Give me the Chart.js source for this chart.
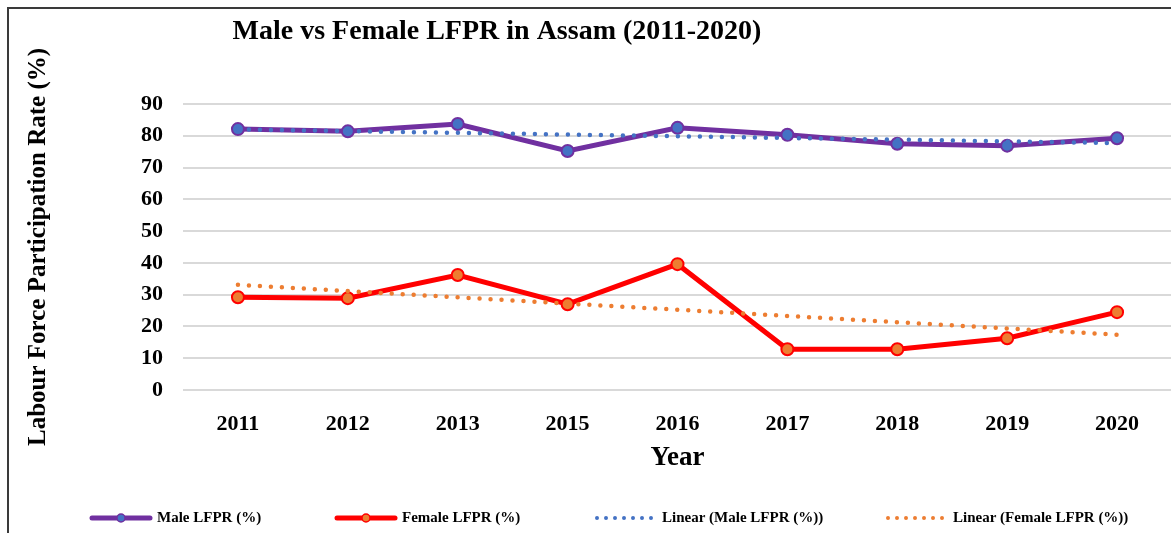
<!DOCTYPE html>
<html>
<head>
<meta charset="utf-8">
<script src="https://cdn.jsdelivr.net/npm/chart.js@4.4.1/dist/chart.umd.min.js"></script>
<style>
html, body { margin: 0; padding: 0; background: #fff; overflow: hidden; }
#wrap { position: relative; width: 1171px; height: 533px; overflow: hidden; }
#frame { position: absolute; left: 7px; top: 7px; width: 1300px; height: 700px; border-left: 2px solid #3a3a3a; border-top: 2px solid #3a3a3a; }
#chart { position: absolute; left: 0; top: 0; }
</style>
</head>
<body>
<div id="wrap">
  <div id="frame"></div>
  <canvas id="chart" width="1180" height="533"></canvas>
</div>
<script>
// Daten
const years = ['2011', '2012', '2013', '2015', '2016', '2017', '2018', '2019', '2020'];
const maleLFPR = [82.1, 81.4, 83.7, 75.2, 82.5, 80.3, 77.5, 76.9, 79.2];
const femaleLFPR = [29.2, 28.9, 36.2, 27.0, 39.6, 12.8, 12.8, 16.3, 24.5];
const maleTrend = [82.0, null, null, null, null, null, null, null, 77.7];
const femaleTrend = [33.1, null, null, null, null, null, null, null, 17.4];
const yMin = 0, yMax = 90, yStep = 10;

const serif = "'Times New Roman', 'Liberation Serif', serif";

// Titel und Legende selbst zeichnen (Positionen wie im Original)
const titleAndLegend = {
  id: 'titleAndLegend',
  afterDraw(chart, args, opts) {
    const ctx = chart.ctx;
    ctx.save();
    ctx.fillStyle = '#000';
    ctx.font = 'bold 28px ' + serif;
    ctx.textAlign = 'center';
    ctx.textBaseline = 'middle';
    ctx.fillText(opts.title, 497, 32);

    ctx.font = 'bold 15px ' + serif;
    ctx.textAlign = 'left';
    chart.data.datasets.forEach((ds, i) => {
      const x = opts.legendX[i], y = 518;
      ctx.beginPath();
      ctx.strokeStyle = ds.borderColor;
      ctx.lineWidth = ds.borderDash ? 4 : 5;
      ctx.lineCap = 'round';
      ctx.setLineDash(ds.borderDash ? [0, 9] : []);
      ctx.moveTo(x, y);
      ctx.lineTo(x + 58, y);
      ctx.stroke();
      ctx.setLineDash([]);
      if (ds.pointRadius > 0) {
        ctx.beginPath();
        ctx.arc(x + 29, y, 4, 0, Math.PI * 2);
        ctx.fillStyle = ds.pointBackgroundColor;
        ctx.fill();
        ctx.lineWidth = 1.5;
        ctx.strokeStyle = ds.pointBorderColor;
        ctx.stroke();
      }
      ctx.fillStyle = '#000';
      ctx.fillText(ds.label, x + 65, y);
    });
    ctx.restore();
  }
};

new Chart(document.getElementById('chart'), {
  type: 'line',
  data: {
    labels: years,
    datasets: [
      {
        label: 'Male LFPR (%)',
        data: maleLFPR,
        borderColor: '#7030A0',
        borderWidth: 5,
        pointRadius: 6,
        pointBackgroundColor: '#4472C4',
        pointBorderColor: '#7030A0',
        pointBorderWidth: 2,
        tension: 0,
        order: 1
      },
      {
        label: 'Female LFPR (%)',
        data: femaleLFPR,
        borderColor: '#FF0000',
        borderWidth: 5,
        pointRadius: 6,
        pointBackgroundColor: '#ED7D31',
        pointBorderColor: '#FF0000',
        pointBorderWidth: 2,
        tension: 0,
        order: 1
      },
      {
        label: 'Linear (Male LFPR (%))',
        data: maleTrend,
        borderColor: '#4472C4',
        borderWidth: 4.5,
        borderDash: [0, 11],
        borderCapStyle: 'round',
        pointRadius: 0,
        spanGaps: true,
        order: 0
      },
      {
        label: 'Linear (Female LFPR (%))',
        data: femaleTrend,
        borderColor: '#ED7D31',
        borderWidth: 4.5,
        borderDash: [0, 11],
        borderCapStyle: 'round',
        pointRadius: 0,
        spanGaps: true,
        order: 0
      }
    ]
  },
  options: {
    responsive: false,
    animation: false,
    layout: { padding: { left: 10, top: 104, right: 5, bottom: 0 } },
    plugins: {
      legend: { display: false },
      tooltip: { enabled: false },
      titleAndLegend: {
        title: 'Male vs Female LFPR in Assam (2011-2020)',
        legendX: [92, 337, 597, 888]
      }
    },
    scales: {
      x: {
        offset: true,
        grid: { display: false },
        border: { display: false },
        ticks: { color: '#000', padding: 13, font: { family: serif, size: 22, weight: 'bold' } },
        title: {
          display: true,
          text: 'Year',
          color: '#000',
          font: { family: serif, size: 27, weight: 'bold' },
          padding: { top: 0, bottom: 59 }
        },
        afterFit(scale) { scale.height = 143; }
      },
      y: {
        min: yMin,
        max: yMax,
        grid: { color: '#d9d9d9', lineWidth: 2, drawTicks: false },
        border: { display: false },
        ticks: { stepSize: yStep, color: '#000', padding: 20, font: { family: serif, size: 22, weight: 'bold' } },
        title: {
          display: true,
          text: 'Labour Force Participation Rate (%)',
          color: '#000',
          font: { family: serif, size: 25, weight: 'bold' },
          padding: { top: 14, bottom: 0 }
        },
        afterFit(scale) { scale.width = 173; }
      }
    }
  },
  plugins: [titleAndLegend]
});
</script>
</body>
</html>
